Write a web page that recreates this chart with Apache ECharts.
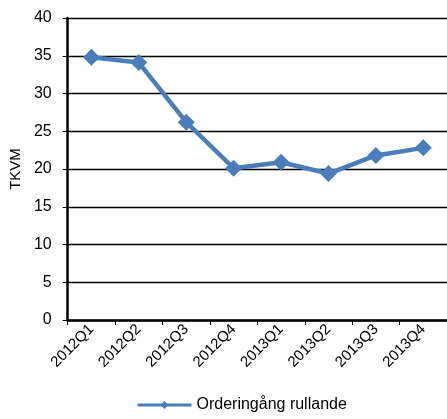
<!DOCTYPE html>
<html><head><meta charset="utf-8">
<script src="https://cdn.jsdelivr.net/npm/echarts@6/dist/echarts.min.js"></script>
<style>html,body{margin:0;padding:0;background:#fff}#c{width:447px;height:419px}</style>
</head><body><div id="c"></div>
<script>
const categories = ['2012Q1','2012Q2','2012Q3','2012Q4','2013Q1','2013Q2','2013Q3','2013Q4'];
const values = [34.8, 34.1, 26.2, 20.1, 20.9, 19.4, 21.8, 22.8];
const seriesName = 'Orderingång rullande';
const yAxisName = 'TKVM';
const chart = echarts.init(document.getElementById('c'));
chart.setOption({
  animation: false,
  textStyle: { fontFamily: 'Liberation Sans, Arial, sans-serif' },
  grid: { left: 66, right: 0, top: 18, bottom: 99 },
  legend: {
    bottom: 1, left: 131,
    itemWidth: 54, itemHeight: 10, itemGap: 10,
    lineStyle: { width: 3 },
    textStyle: { fontSize: 16, color: '#000', fontFamily: 'Liberation Sans, Arial, sans-serif' },
    data: [seriesName]
  },
  xAxis: {
    type: 'category', data: categories, boundaryGap: true,
    axisLine: { lineStyle: { color: '#000', width: 2.5 } },
    axisTick: { show: true, alignWithLabel: false, length: 5, lineStyle: { color: '#000', width: 1 } },
    axisLabel: { rotate: 45, fontSize: 15, color: '#000', margin: 7, interval: 0 }
  },
  yAxis: {
    type: 'value', min: 0, max: 40, interval: 5,
    name: yAxisName, nameLocation: 'middle', nameGap: 42, nameRotate: 90,
    nameTextStyle: { fontSize: 15, color: '#000' },
    axisLine: { show: true, lineStyle: { color: '#000', width: 2.5 } },
    axisTick: { show: true, length: 5, lineStyle: { color: '#000' } },
    axisLabel: { fontSize: 16, color: '#000', margin: 16 },
    splitLine: { lineStyle: { color: '#000', width: 1.4 } }
  },
  series: [{
    name: seriesName, type: 'line', data: values,
    symbol: 'diamond', symbolSize: 17,
    lineStyle: { color: '#4A7EBB', width: 4.5 },
    itemStyle: { color: '#4A7EBB' }
  }]
});
</script></body></html>
